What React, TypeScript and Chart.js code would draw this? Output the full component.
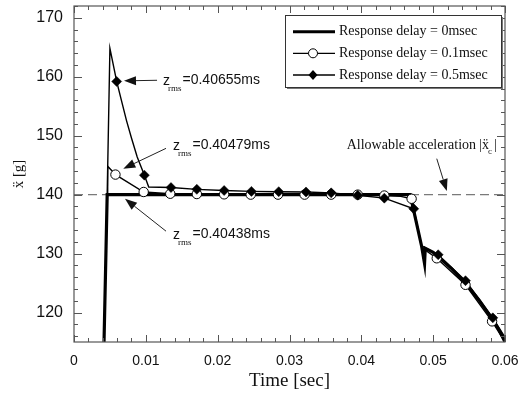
import React, { useEffect, useRef } from 'react';
import { Chart, registerables } from 'chart.js';
Chart.register(...registerables);

// ---- data ----
const seriesLabels = ['Response delay = 0msec', 'Response delay = 0.1msec', 'Response delay = 0.5msec'];

// 0 msec (thick line, no markers)
const t0 = [0.00418, 0.00462, 0.0100, 0.0200, 0.0300, 0.0400, 0.0468, 0.0484, 0.0488, 0.0489, 0.0500, 0.0507, 0.0526, 0.0545, 0.0564, 0.0583, 0.0592, 0.0600];
const v0 = [115, 140, 140, 140, 140, 140, 140, 131.2, 128.3, 130.9, 130.2, 129.5, 127.4, 125.0, 122.1, 118.8, 117.0, 115.0];

// 0.1 msec line
const t1 = [0.00418, 0.00462, 0.00469, 0.00577, 0.0097, 0.0134, 0.0171, 0.0209, 0.0246, 0.0284, 0.0321, 0.0358, 0.0395, 0.0432, 0.0455, 0.0470, 0.0484, 0.0505, 0.0545, 0.0582, 0.0600];
const v1 = [115, 140, 144.8, 143.4, 140.45, 140.15, 140.1, 140.05, 140.0, 140.0, 140.0, 140.0, 140.0, 139.85, 139.7, 139.3, 131.0, 129.2, 124.7, 118.5, 115.0];
// 0.1 msec markers (open circles)
const m1t = [0.00577, 0.0097, 0.0134, 0.0171, 0.0209, 0.0246, 0.0284, 0.0321, 0.0358, 0.0395, 0.0432, 0.0470, 0.0505, 0.0545, 0.0582];
const m1v = [143.4, 140.45, 140.15, 140.1, 140.05, 140.0, 140.0, 140.0, 140.0, 140.0, 139.85, 139.3, 129.2, 124.7, 118.5];

// 0.5 msec line
const t2 = [0.00418, 0.00462, 0.0050, 0.00594, 0.0066, 0.0073, 0.0080, 0.0088, 0.0098, 0.0104, 0.0135, 0.0171, 0.0209, 0.0247, 0.0285, 0.0323, 0.0358, 0.0395, 0.0432, 0.0473, 0.0484, 0.0507, 0.0545, 0.0583, 0.0600];
const v2 = [115, 140, 164.8, 159.2, 156.0, 152.6, 149.6, 146.4, 143.3, 141.3, 141.2, 140.9, 140.7, 140.55, 140.5, 140.45, 140.3, 139.9, 139.4, 137.6, 131.3, 129.8, 125.4, 119.1, 115.8];
// 0.5 msec markers (filled diamonds)
const m2t = [0.00594, 0.0098, 0.0135, 0.0171, 0.0209, 0.0247, 0.0285, 0.0323, 0.0358, 0.0395, 0.0432, 0.0473, 0.0507, 0.0545, 0.0583];
const m2v = [159.2, 143.3, 141.2, 140.9, 140.7, 140.55, 140.5, 140.45, 140.3, 139.9, 139.4, 137.6, 129.8, 125.4, 119.1];

const allowable = 140;
const xMin = 0, xMax = 0.06, xStep = 0.002, xMajor = 0.01;
const yMin = 115, yMax = 172, yStep = 2, yMajor = 10;
const xTitle = 'Time [sec]';
const yTitle = 'ẍ [g]';

// annotations: z_rms labels (text anchor + arrow from/to in data coords)
const zLabels = ['=0.40655ms', '=0.40479ms', '=0.40438ms'];
const zAnchorT = [0.01239, 0.01378, 0.01378];
const zAnchorV = [159.5, 148.4, 133.3];
const arrowFromT = [0.01156, 0.01281, 0.01281];
const arrowFromV = [159.4, 147.85, 133.8];
const arrowToT = [0.00696, 0.00686, 0.0071];
const arrowToV = [159.3, 144.4, 139.3];
const allowText = 'Allowable acceleration';
const allowAnchor = [0.03796, 148.4];
const allowArrowFrom = [0.0505, 146.1];
const allowArrowTo = [0.0519, 140.6];

const toPts = (ts: number[], vs: number[]) => ts.map((t, i) => ({ x: t, y: vs[i] }));

function arrow(ctx: CanvasRenderingContext2D, x1: number, y1: number, x2: number, y2: number) {
  const ang = Math.atan2(y2 - y1, x2 - x1);
  const L = 12, W = 4.5;
  const bx = x2 - Math.cos(ang) * L, by = y2 - Math.sin(ang) * L;
  ctx.beginPath();
  ctx.moveTo(x1, y1);
  ctx.lineTo(bx, by);
  ctx.stroke();
  ctx.beginPath();
  ctx.moveTo(x2, y2);
  ctx.lineTo(bx - Math.sin(ang) * W, by + Math.cos(ang) * W);
  ctx.lineTo(bx + Math.sin(ang) * W, by - Math.cos(ang) * W);
  ctx.closePath();
  ctx.fill();
}

const decor = {
  id: 'decor',
  beforeDatasetsDraw(chart: any) {
    const { ctx, chartArea: a, scales } = chart;
    const yy = scales.y.getPixelForValue(allowable);
    ctx.save();
    ctx.strokeStyle = '#7a7a7a';
    ctx.lineWidth = 1.3;
    ctx.setLineDash([9, 5]);
    ctx.beginPath();
    ctx.moveTo(a.left, yy);
    ctx.lineTo(a.right, yy);
    ctx.stroke();
    ctx.restore();
  },
  afterDraw(chart: any) {
    const { ctx, chartArea: a, scales } = chart;
    const xs = scales.x, ys = scales.y;
    ctx.save();
    // frame
    ctx.strokeStyle = '#555';
    ctx.lineWidth = 1.2;
    ctx.strokeRect(a.left, a.top, a.right - a.left, a.bottom - a.top);
    // ticks (inward)
    ctx.lineWidth = 1;
    ctx.beginPath();
    xs.ticks.forEach((t: any) => {
      const px = Math.round(xs.getPixelForValue(t.value)) + 0.5;
      const r = t.value / xMajor;
      const major = Math.abs(r - Math.round(r)) < 1e-6;
      const len = major ? 7 : 4;
      ctx.moveTo(px, a.bottom); ctx.lineTo(px, a.bottom - len);
      ctx.moveTo(px, a.top); ctx.lineTo(px, a.top + len);
    });
    ys.ticks.forEach((t: any) => {
      const py = Math.round(ys.getPixelForValue(t.value)) + 0.5;
      const major = t.value % yMajor === 0;
      const len = major ? 8 : 4;
      ctx.moveTo(a.left, py); ctx.lineTo(a.left + len, py);
      ctx.moveTo(a.right, py); ctx.lineTo(a.right - len, py);
    });
    ctx.stroke();

    // z_rms annotations
    ctx.fillStyle = '#111';
    ctx.strokeStyle = '#222';
    ctx.lineWidth = 1;
    ctx.textBaseline = 'middle';
    ctx.textAlign = 'left';
    zLabels.forEach((lab, i) => {
      const x = xs.getPixelForValue(zAnchorT[i]);
      const y = ys.getPixelForValue(zAnchorV[i]);
      ctx.font = '14px "Liberation Sans", Arial, sans-serif';
      ctx.fillText('z', x, y + 1);
      ctx.fillText(lab, x + 19.5, y);
      ctx.font = '9px "Liberation Serif", serif';
      ctx.fillText('rms', x + 5, y + 9);
      arrow(ctx, xs.getPixelForValue(arrowFromT[i]), ys.getPixelForValue(arrowFromV[i]),
        xs.getPixelForValue(arrowToT[i]), ys.getPixelForValue(arrowToV[i]));
    });

    // allowable acceleration
    {
      const x = xs.getPixelForValue(allowAnchor[0]);
      const y = ys.getPixelForValue(allowAnchor[1]);
      ctx.font = '14px "Liberation Serif", "DejaVu Serif", serif';
      ctx.fillText(allowText, x, y);
      let cx = x + ctx.measureText(allowText).width + 3;
      ctx.fillText('|ẍ', cx, y);
      cx += ctx.measureText('|ẍ').width;
      ctx.font = '9px "Liberation Serif", serif';
      ctx.fillText('c', cx - 1, y + 7);
      cx += 5;
      ctx.font = '14px "Liberation Serif", serif';
      ctx.fillText('|', cx, y);
      arrow(ctx, xs.getPixelForValue(allowArrowFrom[0]), ys.getPixelForValue(allowArrowFrom[1]),
        xs.getPixelForValue(allowArrowTo[0]), ys.getPixelForValue(allowArrowTo[1]));
    }

    // legend
    {
      const w = 216, h = 72;
      const left = a.right - 4 - w, top = a.top + 9;
      ctx.fillStyle = '#777';
      ctx.fillRect(left + 2, top + 2, w, h);
      ctx.fillStyle = '#fff';
      ctx.fillRect(left, top, w, h);
      ctx.strokeStyle = '#333';
      ctx.lineWidth = 1;
      ctx.strokeRect(left + 0.5, top + 0.5, w, h);
      const rows = [16.7, 38.3, 60];
      ctx.font = '14px "Liberation Serif", serif';
      ctx.textBaseline = 'middle';
      rows.forEach((ry, i) => {
        const y = top + ry;
        ctx.strokeStyle = '#000';
        ctx.lineWidth = i === 0 ? 3 : 1.3;
        ctx.beginPath();
        ctx.moveTo(left + 8, y);
        ctx.lineTo(left + 50, y);
        ctx.stroke();
        const mx = left + 28;
        if (i === 1) {
          ctx.fillStyle = '#fff';
          ctx.lineWidth = 1;
          ctx.beginPath();
          ctx.arc(mx, y, 4.5, 0, Math.PI * 2);
          ctx.fill();
          ctx.stroke();
        } else if (i === 2) {
          ctx.fillStyle = '#000';
          ctx.beginPath();
          ctx.moveTo(mx - 4.5, y); ctx.lineTo(mx, y - 5); ctx.lineTo(mx + 4.5, y); ctx.lineTo(mx, y + 5);
          ctx.closePath();
          ctx.fill();
        }
        ctx.fillStyle = '#111';
        ctx.fillText(seriesLabels[i], left + 54, y);
      });
    }
    ctx.restore();
  },
};

export default function App() {
  const ref = useRef<HTMLCanvasElement>(null);
  useEffect(() => {
    const chart = new Chart(ref.current as HTMLCanvasElement, {
      type: 'line',
      data: {
        datasets: [
          {
            label: seriesLabels[2] + ' markers',
            data: toPts(m2t, m2v),
            showLine: false,
            pointStyle: 'rectRot',
            pointRadius: 5,
            pointBackgroundColor: '#000',
            pointBorderColor: '#000',
            pointBorderWidth: 0.5,
          },
          {
            label: seriesLabels[1] + ' markers',
            data: toPts(m1t, m1v),
            showLine: false,
            pointStyle: 'circle',
            pointRadius: 4.7,
            pointBackgroundColor: '#fff',
            pointBorderColor: '#000',
            pointBorderWidth: 1,
          },
          {
            label: seriesLabels[2],
            data: toPts(t2, v2),
            borderColor: '#000',
            borderWidth: 1.4,
            pointRadius: 0,
            tension: 0,
          },
          {
            label: seriesLabels[1],
            data: toPts(t1, v1),
            borderColor: '#000',
            borderWidth: 1.4,
            pointRadius: 0,
            tension: 0,
          },
          {
            label: seriesLabels[0],
            data: toPts(t0, v0),
            borderColor: '#000',
            borderWidth: 3.2,
            pointRadius: 0,
            tension: 0,
          },
        ],
      },
      options: {
        animation: false,
        responsive: false,
        devicePixelRatio: 1,
        layout: { padding: { left: 0, top: 6, right: 20, bottom: 0 } },
        plugins: { legend: { display: false }, tooltip: { enabled: false } },
        scales: {
          x: {
            type: 'linear',
            min: xMin,
            max: xMax,
            grid: { display: false, drawTicks: false },
            border: { display: false },
            ticks: {
              stepSize: xStep,
              autoSkip: false,
              maxRotation: 0,
              padding: 11,
              color: '#111',
              font: { family: '"Liberation Sans", Arial, sans-serif', size: 14 },
              callback: (v: any) => {
                const r = v / xMajor;
                if (Math.abs(r - Math.round(r)) > 1e-6) return '';
                return v === 0 ? '0' : Number(v).toFixed(2);
              },
            },
            title: {
              display: true,
              text: xTitle,
              color: '#111',
              font: { family: '"Liberation Serif", serif', size: 19 },
              padding: { top: 0, bottom: 3 },
            },
            afterFit: (s: any) => { s.height = 53; s.paddingLeft = 0; s.paddingRight = 0; },
          },
          y: {
            type: 'linear',
            min: yMin,
            max: yMax,
            grid: { display: false, drawTicks: false },
            border: { display: false },
            ticks: {
              stepSize: yStep,
              includeBounds: false,
              autoSkip: false,
              padding: 11,
              color: '#111',
              font: { family: '"Liberation Sans", Arial, sans-serif', size: 16 },
              callback: (v: any) => (v % yMajor === 0 ? String(v) : ''),
            },
            title: {
              display: true,
              text: yTitle,
              color: '#111',
              font: { family: '"Liberation Serif", "DejaVu Serif", serif', size: 15 },
              padding: { top: 10, bottom: 0 },
            },
            afterFit: (s: any) => { s.width = 74; s.paddingTop = 0; s.paddingBottom = 0; },
          },
        },
      },
      plugins: [decor],
    } as any);
    return () => chart.destroy();
  }, []);
  return (
    <div style={{ position: 'fixed', left: 0, top: 0, width: 525, height: 395, background: '#fff' }}>
      <canvas ref={ref} width={525} height={395} style={{ display: 'block' }} />
    </div>
  );
}
